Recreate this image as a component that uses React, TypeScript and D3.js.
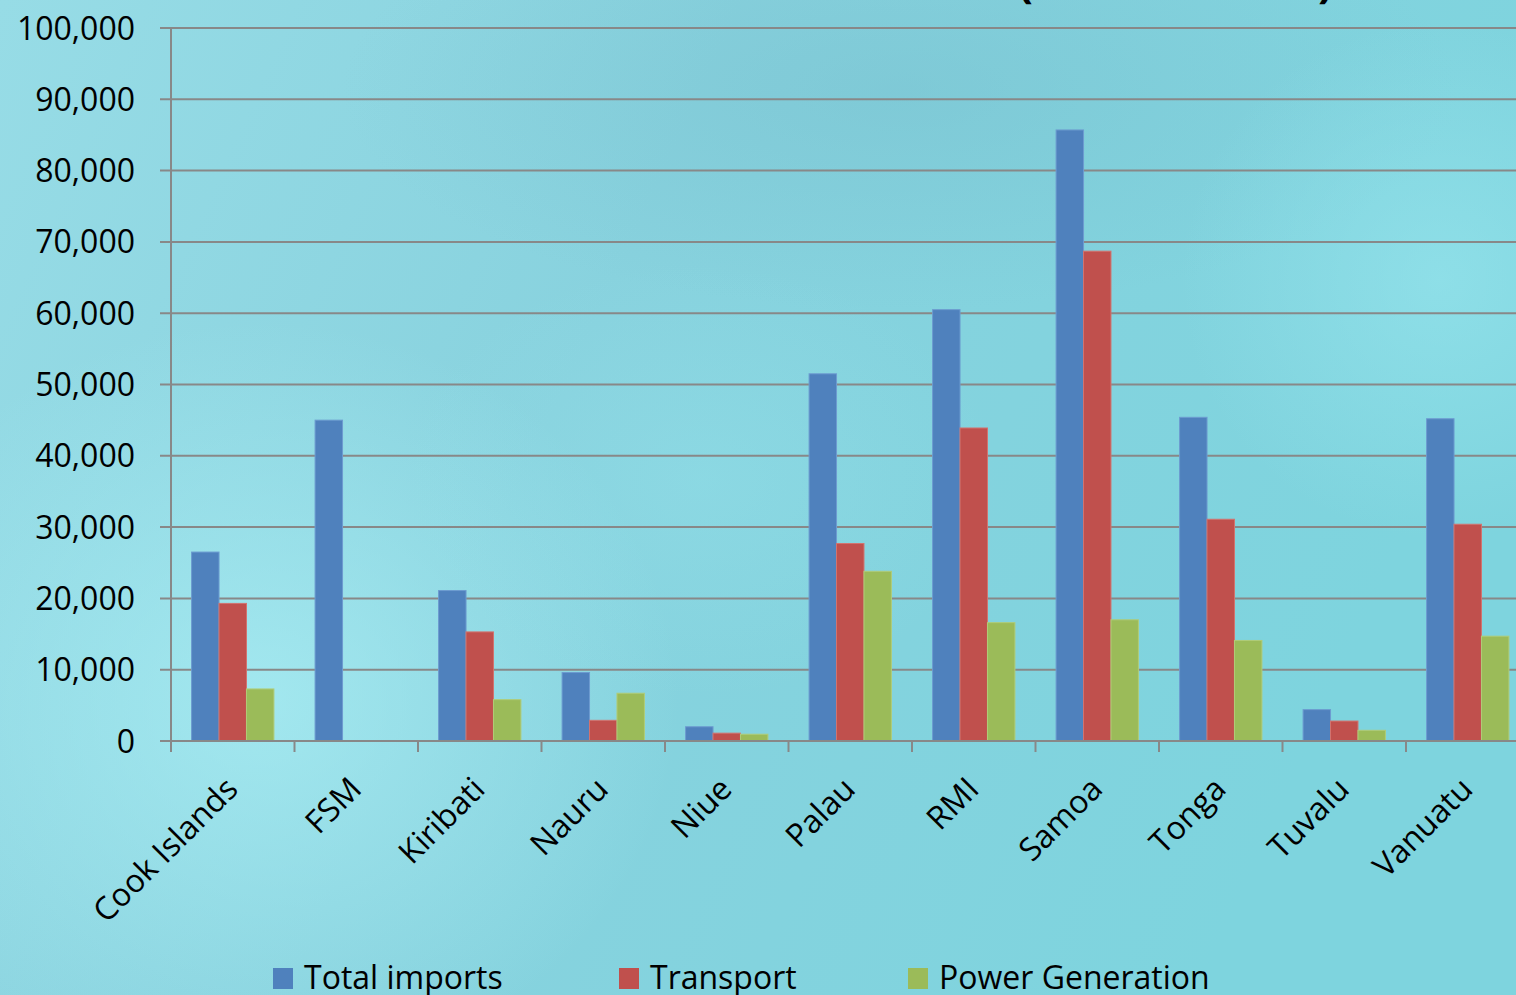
import React from "react";
import * as d3 from "d3";

// Fuel import volumes by country and end use
const countries = [
  "Cook Islands", "FSM", "Kiribati", "Nauru", "Niue", "Palau",
  "RMI", "Samoa", "Tonga", "Tuvalu", "Vanuatu",
];
const totalImports = [26500, 45000, 21100, 9600, 2000, 51500, 60500, 85700, 45400, 4400, 45200];
const transport = [19300, 0, 15300, 2900, 1100, 27700, 43900, 68700, 31100, 2800, 30400];
const powerGeneration = [7300, 0, 5800, 6700, 950, 23800, 16600, 17000, 14100, 1500, 14700];

const seriesNames = ["Total imports", "Transport", "Power Generation"];
const seriesColors = ["#4f81bd", "#c0504d", "#9bbb59"];
const seriesStrokes = ["#6d9bd0", "#d2736f", "#b0cc78"];
const yTicks = [0, 10000, 20000, 30000, 40000, 50000, 60000, 70000, 80000, 90000, 100000];

const W = 1516;
const H = 995;
const FONT = "'Open Sans', 'Noto Sans', sans-serif";

export default function App() {
  const left = 171;
  const step = 123.5;
  const x = d3
    .scaleBand<string>()
    .domain(countries)
    .range([left, left + step * countries.length])
    .paddingInner(0)
    .paddingOuter(0);
  const x1 = d3
    .scaleBand<string>()
    .domain(seriesNames)
    .range([0, x.bandwidth()])
    .paddingInner(0)
    .paddingOuter(0.75);
  const y = d3.scaleLinear().domain([0, 100000]).range([741, 28]);
  const fmt = d3.format(",");

  const series = [totalImports, transport, powerGeneration];
  const boundaries = d3.range(countries.length + 1).map((i) => left + i * step);

  const legendItems = [
    { name: seriesNames[0], color: seriesColors[0], x: 273 },
    { name: seriesNames[1], color: seriesColors[1], x: 619 },
    { name: seriesNames[2], color: seriesColors[2], x: 908 },
  ];

  return (
    <svg
      width={W}
      height={H}
      style={{ position: "absolute", left: 0, top: 0, display: "block" }}
      fontFamily={FONT}
    >
      <defs>
        <linearGradient id="bg" x1="0" y1="0" x2="1" y2="0.3">
          <stop offset="0" stopColor="#97dce6" />
          <stop offset="0.45" stopColor="#88d2de" />
          <stop offset="1" stopColor="#7ed4de" />
        </linearGradient>
        <radialGradient id="glowLeft" cx="0.5" cy="0.5" r="0.5">
          <stop offset="0" stopColor="#aaeef4" stopOpacity="0.75" />
          <stop offset="1" stopColor="#aaeef4" stopOpacity="0" />
        </radialGradient>
        <radialGradient id="shadeTop" cx="0.5" cy="0.5" r="0.5">
          <stop offset="0" stopColor="#74bccb" stopOpacity="0.4" />
          <stop offset="1" stopColor="#74bccb" stopOpacity="0" />
        </radialGradient>
        <radialGradient id="glowRight" cx="0.5" cy="0.5" r="0.5">
          <stop offset="0" stopColor="#98e6ee" stopOpacity="0.6" />
          <stop offset="1" stopColor="#98e6ee" stopOpacity="0" />
        </radialGradient>
      </defs>

      {/* background wash */}
      <rect x={0} y={0} width={W} height={H} fill="url(#bg)" />
      <ellipse cx={260} cy={700} rx={420} ry={380} fill="url(#glowLeft)" />
      <ellipse cx={900} cy={90} rx={560} ry={220} fill="url(#shadeTop)" />
      <ellipse cx={1440} cy={280} rx={260} ry={260} fill="url(#glowRight)" />
      <ellipse cx={700} cy={480} rx={300} ry={220} fill="url(#glowRight)" opacity={0.5} />

      {/* title (descending glyphs only reach into view) */}
      <g fontSize={44} fontWeight="bold" fill="#000">
        <text x={1018} y={-3}>(</text>
        <text x={1318} y={-3}>)</text>
      </g>

      {/* gridlines and y tick marks */}
      <g stroke="#888888" strokeWidth={2}>
        {yTicks.map((t) => (
          <line key={t} x1={160} x2={W} y1={y(t)} y2={y(t)} />
        ))}
        <line x1={left} x2={left} y1={y(100000)} y2={752} />
        {boundaries.map((bx, i) => (
          <line key={i} x1={bx} x2={bx} y1={y(0)} y2={752} />
        ))}
      </g>

      {/* y tick labels */}
      <g fontSize={32} fill="#000" textAnchor="end">
        {yTicks.map((t) => (
          <text key={t} x={135} y={y(t)} dy="0.36em">
            {fmt(t)}
          </text>
        ))}
      </g>

      {/* bars */}
      {series.map((vals, si) => (
        <g key={seriesNames[si]} fill={seriesColors[si]} stroke={seriesStrokes[si]} strokeWidth={1}>
          {countries.map((c, ci) =>
            vals[ci] > 0 ? (
              <rect
                key={c}
                x={(x(c) as number) + (x1(seriesNames[si]) as number)}
                y={y(vals[ci])}
                width={x1.bandwidth()}
                height={y(0) - y(vals[ci])}
              />
            ) : null
          )}
        </g>
      ))}

      {/* redraw baseline over bars */}
      <line x1={160} x2={W} y1={y(0)} y2={y(0)} stroke="#888888" strokeWidth={2} />

      {/* category labels */}
      <g fontSize={32} fill="#000" textAnchor="end">
        {countries.map((c) => {
          const cx = (x(c) as number) + x.bandwidth() / 2 + 7;
          return (
            <text key={c} transform={`translate(${cx},791) rotate(-45)`}>
              {c}
            </text>
          );
        })}
      </g>

      {/* legend */}
      <g fontSize={32} fill="#000">
        {legendItems.map((d) => (
          <g key={d.name}>
            <rect x={d.x} y={968} width={20} height={21} fill={d.color} />
            <text x={d.x + 31} y={989}>
              {d.name}
            </text>
          </g>
        ))}
      </g>
    </svg>
  );
}
